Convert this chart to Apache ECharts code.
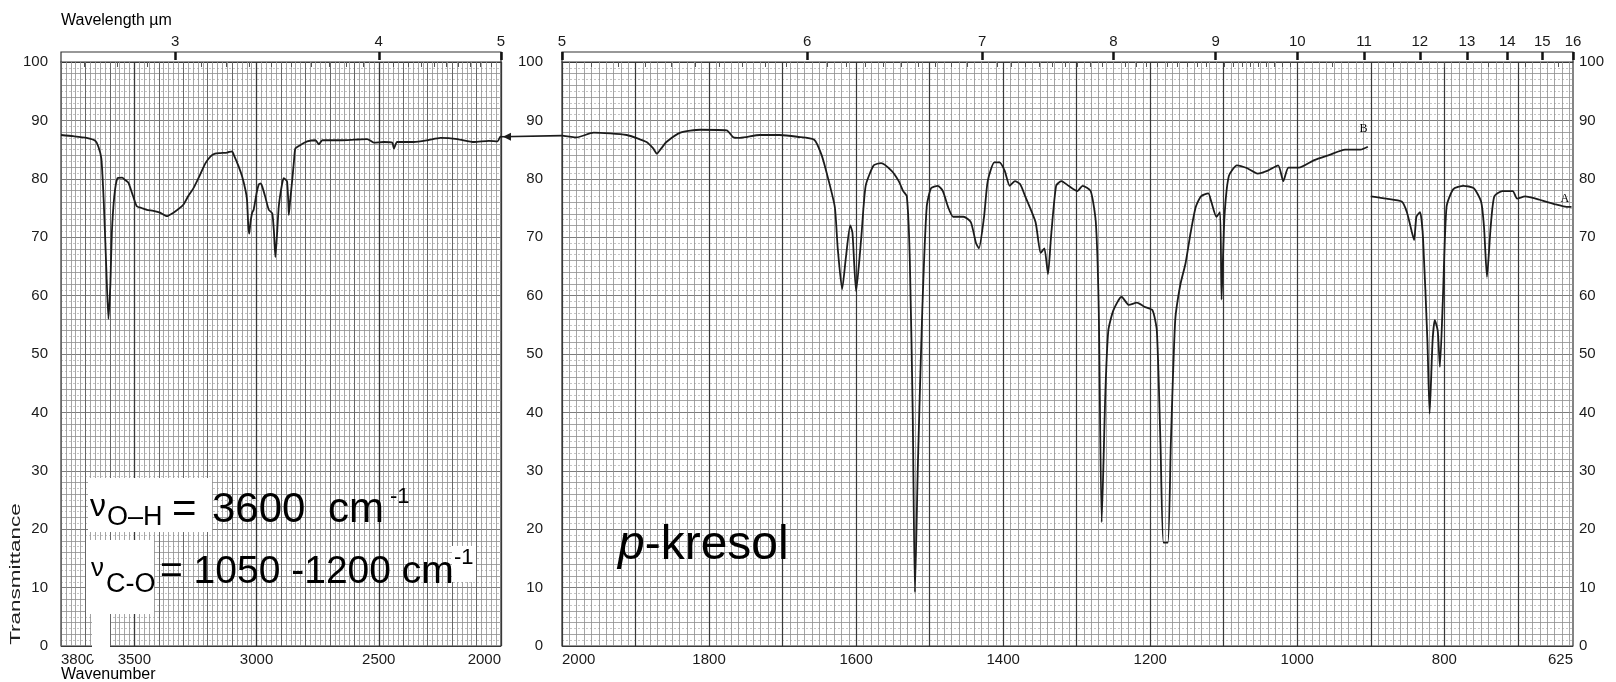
<!DOCTYPE html>
<html>
<head>
<meta charset="utf-8">
<script src="https://cdn.jsdelivr.net/npm/echarts@6/dist/echarts.min.js"></script>
<style>
  html, body { margin: 0; padding: 0; background: #fff; }
  #chart { width: 1616px; height: 682px; }
</style>
</head>
<body>
<div id="chart"></div>
<script>
// --- data (wavenumber cm-1, % transmittance) ---
var leftWavenumbers = [3800, 3750, 3695, 3660, 3647, 3635, 3625, 3615, 3606, 3598, 3592, 3582, 3569, 3550, 3538, 3524, 3505, 3490, 3470, 3449, 3422, 3395, 3367, 3340, 3320, 3299, 3280, 3258, 3230, 3210, 3189, 3170, 3148, 3120, 3100, 3094, 3075, 3059, 3045, 3039, 3034, 3030, 3025, 3018, 3012, 3000, 2991, 2983, 2977, 2965, 2950, 2936, 2929, 2923, 2917, 2909, 2897, 2889, 2880, 2875, 2870, 2868, 2862, 2854, 2847, 2841, 2820, 2793, 2759, 2745, 2731, 2657, 2600, 2547, 2520, 2480, 2445, 2438, 2425, 2356, 2300, 2247, 2178, 2110, 2050, 2014, 2003, 2000];
var leftTransmittance = [87.5, 87.3, 87.0, 86.5, 85.5, 83.5, 76, 65, 56, 62, 70.7, 77, 80.1, 80.2, 79.8, 79.3, 77, 75.3, 75.0, 74.7, 74.5, 74.2, 73.6, 74.2, 74.8, 75.6, 77.0, 78.4, 80.8, 82.6, 83.8, 84.3, 84.4, 84.5, 84.7, 84.2, 82.3, 80.4, 78.0, 76.4, 72, 70.6, 72.5, 74.2, 74.7, 77.5, 79.0, 79.2, 78.7, 77.0, 74.7, 74.1, 71, 66.6, 70, 75.3, 78.8, 80.1, 79.8, 79.5, 76, 73.8, 76.5, 79.8, 83, 85.2, 85.8, 86.4, 86.6, 85.9, 86.6, 86.6, 86.7, 86.8, 86.2, 86.3, 86.2, 85.2, 86.3, 86.3, 86.6, 87.0, 86.8, 86.3, 86.5, 86.4, 87.2, 87.2];

var rightWavenumbersB = [2000, 1980, 1957, 1912, 1885, 1876, 1871, 1865, 1858, 1839, 1812, 1776, 1767, 1758, 1731, 1704, 1680, 1657, 1647, 1639, 1629, 1625, 1619, 1614, 1608, 1605, 1600, 1593, 1587, 1576, 1566, 1552, 1542, 1536, 1531, 1527, 1523, 1520, 1516, 1510, 1504, 1498, 1489, 1482, 1475, 1468, 1454, 1444, 1437, 1433, 1426, 1421, 1412, 1405, 1398, 1391, 1384, 1377, 1370, 1356, 1349, 1344, 1339, 1335, 1328, 1321, 1311, 1299, 1292, 1281, 1274, 1270, 1266, 1261, 1257, 1250, 1239, 1229, 1218, 1208, 1197, 1191, 1186, 1182, 1176, 1172, 1166, 1159, 1152, 1145, 1138, 1131, 1121, 1117, 1110, 1105, 1103, 1099, 1093, 1082, 1068, 1054, 1040, 1026, 1019, 1012, 998, 977, 956, 935, 914, 904];
var rightTransmittanceB = [87.4, 87.1, 87.9, 87.5, 86.3, 85.2, 84.3, 85.2, 86.3, 87.9, 88.4, 88.3, 87.1, 87.0, 87.5, 87.5, 87.2, 86.7, 84.1, 80.5, 75.2, 68.1, 61.1, 66.4, 72.0, 70.8, 60.7, 69.9, 78.8, 82.3, 82.7, 81.4, 79.6, 77.9, 77.0, 66.4, 39.8, 9.2, 31.0, 57.5, 75.2, 78.4, 78.8, 77.9, 75.2, 73.5, 73.5, 72.6, 69.0, 68.1, 73.5, 79.6, 82.8, 82.8, 81.4, 78.8, 79.6, 79.1, 77.0, 72.6, 67.3, 68.1, 63.7, 69.9, 78.8, 79.6, 78.8, 77.9, 78.8, 77.9, 72.6, 57.5, 21.2, 43.4, 54.0, 57.5, 59.8, 58.4, 58.8, 58.1, 57.5, 54.0, 34.5, 17.7, 17.7, 34.5, 55.8, 61.9, 65.5, 70.8, 75.2, 77.0, 77.5, 76.1, 73.5, 74.3, 59.3, 73.5, 80.5, 82.3, 81.8, 80.9, 81.4, 82.3, 79.6, 81.9, 81.9, 83.2, 84.1, 85.0, 85.0, 85.5];

var rightWavenumbersA = [900, 879, 858, 851, 844, 841, 838, 833, 829, 823, 820, 816, 813, 809, 806, 802, 797, 788, 774, 760, 750, 746, 742, 737, 732, 721, 707, 701, 690, 676, 662, 648, 634, 627];
var rightTransmittanceA = [77.0, 76.6, 76.1, 74.3, 70.8, 69.5, 73.5, 74.3, 69.9, 52.2, 39.8, 52.2, 55.8, 54.0, 47.8, 59.3, 75.2, 78.2, 78.8, 78.4, 76.1, 71.7, 63.2, 71.7, 77.0, 77.9, 77.9, 76.6, 77.0, 76.6, 76.1, 75.6, 75.2, 75.2];

// --- tick labels ---
var leftWavenumberLabels = [3800, 3500, 3000, 2500, 2000];
var rightWavenumberLabels = [2000, 1800, 1600, 1400, 1200, 1000, 800, 625];
var leftWavelengthLabels = [3, 4, 5];
var rightWavelengthLabels = [5, 6, 7, 8, 9, 10, 11, 12, 13, 14, 15, 16];

function zip(xs, ys) {
  return xs.map(function (x, i) { return [x, ys[i]]; });
}
function steps(from, to, step) {
  var out = [];
  for (var v = from; v <= to + 1e-9; v += step) out.push(Math.round(v * 1000) / 1000);
  return out;
}
function toWavenumber(um) { return 10000 / um; }

var gridColor = '#8e8e8e';
var midColor = '#666';
var darkColor = '#383838';
var ink = '#1a1a1a';
var font = 'Liberation Sans, Arial, sans-serif';

var chart = echarts.init(document.getElementById('chart'), null, { renderer: 'canvas' });

// hidden axis that only draws split lines at given values
function lineAxis(grid, min, max, values, color, width) {
  return {
    gridIndex: grid, type: 'value', min: min, max: max, inverse: true,
    axisLine: { show: false }, axisLabel: { show: false },
    axisTick: { show: false, customValues: values },
    splitLine: { show: true, lineStyle: { color: color, width: width } }
  };
}
function pctAxis(grid, values, color, width, type) {
  return {
    gridIndex: grid, type: 'value', min: 0, max: 100,
    axisLine: { show: false }, axisLabel: { show: false },
    axisTick: { show: false, customValues: values },
    splitLine: { show: true, lineStyle: { color: color, width: width, type: type } }
  };
}

var leftMinor = steps(2000, 3800, 20);
var leftHundred = steps(2000, 3800, 100);
var leftFiveHundred = steps(2000, 3500, 500);
var rightMinor = steps(630, 2000, 10);
var rightHundred = steps(700, 2000, 100);
var pct1 = steps(1, 99, 2);
var pct2 = steps(2, 98, 2);

var leftUmMinor = steps(2.7, 4.9, 0.1).filter(function (v) { return Math.abs(v - Math.round(v)) > 0.01; }).map(toWavenumber);
var rightUmMinor = steps(5.1, 9.9, 0.1).filter(function (v) { return Math.abs(v - Math.round(v)) > 0.01; })
  .concat(steps(10.5, 15.5, 1)).map(toWavenumber);

var plainNum = function (v) { return String(v); };
var umLabel = function (v) { return String(Math.round(10000 / v)); };

var xAxes = [
  // 0: left main
  { gridIndex: 0, type: 'value', min: 2000, max: 3800, inverse: true,
    axisLine: { show: false }, axisTick: { show: false }, splitLine: { show: false },
    axisLabel: { customValues: leftWavenumberLabels, formatter: plainNum, color: ink, fontSize: 15, fontFamily: font, margin: 6,
      alignMinLabel: 'left', alignMaxLabel: 'right' } },
  lineAxis(0, 2000, 3800, leftMinor, gridColor, 0.8),
  lineAxis(0, 2000, 3800, leftHundred, midColor, 1),
  lineAxis(0, 2000, 3800, leftFiveHundred, darkColor, 1.3),
  // 4: right main
  { gridIndex: 1, type: 'value', min: 625, max: 2000, inverse: true,
    axisLine: { show: false }, axisTick: { show: false }, splitLine: { show: false },
    axisLabel: { customValues: rightWavenumberLabels, formatter: plainNum, color: ink, fontSize: 15, fontFamily: font, margin: 6,
      alignMinLabel: 'left', alignMaxLabel: 'right' } },
  lineAxis(1, 625, 2000, rightMinor, gridColor, 0.8),
  lineAxis(1, 625, 2000, rightHundred, darkColor, 1.2),
  // 7, 8: left wavelength strip
  { gridIndex: 2, type: 'value', min: 2000, max: 3800, inverse: true, position: 'top',
    axisLine: { show: false }, splitLine: { show: false }, axisLabel: { show: false },
    axisTick: { show: true, inside: true, length: 5, customValues: leftUmMinor, lineStyle: { color: '#555', width: 1 } } },
  { gridIndex: 2, type: 'value', min: 2000, max: 3800, inverse: true, position: 'top',
    axisLine: { show: false }, splitLine: { show: false },
    axisTick: { show: true, inside: true, length: 8, customValues: leftWavelengthLabels.map(toWavenumber), lineStyle: { color: '#111', width: 2.5 } },
    axisLabel: { show: true, customValues: leftWavelengthLabels.map(toWavenumber), formatter: umLabel, color: ink, fontSize: 15, fontFamily: font, margin: 3 } },
  // 9, 10: right wavelength strip
  { gridIndex: 3, type: 'value', min: 625, max: 2000, inverse: true, position: 'top',
    axisLine: { show: false }, splitLine: { show: false }, axisLabel: { show: false },
    axisTick: { show: true, inside: true, length: 5, customValues: rightUmMinor, lineStyle: { color: '#555', width: 1 } } },
  { gridIndex: 3, type: 'value', min: 625, max: 2000, inverse: true, position: 'top',
    axisLine: { show: false }, splitLine: { show: false },
    axisTick: { show: true, inside: true, length: 8, customValues: rightWavelengthLabels.map(toWavenumber), lineStyle: { color: '#111', width: 2.5 } },
    axisLabel: { show: true, customValues: rightWavelengthLabels.map(toWavenumber), formatter: umLabel, color: ink, fontSize: 15, fontFamily: font, margin: 3 } }
];

var yAxes = [
  // 0..2 left grid
  { gridIndex: 0, type: 'value', min: 0, max: 100, interval: 10, position: 'left',
    axisLine: { show: false }, axisTick: { show: false },
    splitLine: { show: true, lineStyle: { color: darkColor, width: 1.2 } },
    axisLabel: { color: ink, fontSize: 15, fontFamily: font, margin: 13, padding: [0, 0, 6, 0] } },
  pctAxis(0, pct1, '#adadad', 0.7, [2, 2]),
  pctAxis(0, pct2, gridColor, 0.8, 'solid'),
  // 3..6 right grid
  { gridIndex: 1, type: 'value', min: 0, max: 100, interval: 10, position: 'left',
    axisLine: { show: false }, axisTick: { show: false },
    splitLine: { show: true, lineStyle: { color: darkColor, width: 1.2 } },
    axisLabel: { color: ink, fontSize: 15, fontFamily: font, margin: 19, padding: [0, 0, 6, 0] } },
  { gridIndex: 1, type: 'value', min: 0, max: 100, interval: 10, position: 'right',
    axisLine: { show: false }, axisTick: { show: false }, splitLine: { show: false },
    axisLabel: { color: ink, fontSize: 15, fontFamily: font, margin: 6, padding: [0, 0, 8, 0] } },
  pctAxis(1, pct1, '#adadad', 0.7, [2, 2]),
  pctAxis(1, pct2, gridColor, 0.8, 'solid'),
  // 7, 8 strips
  { gridIndex: 2, type: 'value', min: 0, max: 1, show: false },
  { gridIndex: 3, type: 'value', min: 0, max: 1, show: false }
];

var lineStyle = { color: '#1c1c1c', width: 1.8 };

chart.setOption({
  animation: false,
  backgroundColor: '#ffffff',
  grid: [
    { left: 61, top: 62, width: 440, height: 584, show: true, borderColor: '#333', borderWidth: 1.2, backgroundColor: '#fff' },
    { left: 562, top: 62, width: 1011, height: 584, show: true, borderColor: '#333', borderWidth: 1.2, backgroundColor: '#fff' },
    { left: 61, top: 52, width: 440, height: 10, show: true, borderColor: '#333', borderWidth: 1.2, backgroundColor: '#fff' },
    { left: 562, top: 52, width: 1011, height: 10, show: true, borderColor: '#333', borderWidth: 1.2, backgroundColor: '#fff' }
  ],
  xAxis: xAxes,
  yAxis: yAxes,
  series: [
    { type: 'line', xAxisIndex: 0, yAxisIndex: 0, data: zip(leftWavenumbers, leftTransmittance),
      showSymbol: false, smooth: 0.2, lineStyle: lineStyle, z: 5 },
    { type: 'line', xAxisIndex: 4, yAxisIndex: 3, data: zip(rightWavenumbersB, rightTransmittanceB),
      showSymbol: false, smooth: 0.2, lineStyle: lineStyle, z: 5 },
    { type: 'line', xAxisIndex: 4, yAxisIndex: 3, data: zip(rightWavenumbersA, rightTransmittanceA),
      showSymbol: false, smooth: 0.2, lineStyle: lineStyle, z: 5 }
  ]
});

// connecting trace between the two panels, letters A / B, annotations
var pL = chart.convertToPixel({ xAxisIndex: 0, yAxisIndex: 0 }, [2000, 87.2]);
var pR = chart.convertToPixel({ xAxisIndex: 4, yAxisIndex: 3 }, [2000, 87.4]);
var pB = chart.convertToPixel({ xAxisIndex: 4, yAxisIndex: 3 }, [910, 88.5]);
var pA = chart.convertToPixel({ xAxisIndex: 4, yAxisIndex: 3 }, [636, 76.5]);

function txt(x, y, s, size, opts) {
  var style = { x: x, y: y, text: s, fontSize: size, fontFamily: font, fill: '#000',
    verticalAlign: 'middle', align: 'left' };
  if (opts) for (var k in opts) style[k] = opts[k];
  return { type: 'text', z: 100, style: style };
}
function rect(x, y, w, h) {
  return { type: 'rect', z: 90, shape: { x: x, y: y, width: w, height: h }, style: { fill: '#fff' } };
}

chart.setOption({
  graphic: [
    { type: 'line', z: 50, shape: { x1: pL[0], y1: pL[1], x2: pR[0], y2: pR[1] }, style: { stroke: '#1c1c1c', lineWidth: 1.6 } },
    { type: 'polygon', z: 50, shape: { points: [[pL[0] + 2, pL[1]], [pL[0] + 10, pL[1] - 4], [pL[0] + 10, pL[1] + 4]] }, style: { fill: '#1c1c1c' } },
    txt(pB[0], pB[1], 'B', 12, { fontFamily: 'Liberation Serif, serif', align: 'center' }),
    txt(pA[0], pA[1], 'A', 12, { fontFamily: 'Liberation Serif, serif', align: 'center' }),

    txt(61, 21, 'Wavelength µm', 16),
    txt(61, 675, 'Wavenumber', 16),
    { type: 'text', z: 100, x: 16, y: 574, rotation: Math.PI / 2, scaleX: 1.5,
      style: { text: 'Transmittance', fontSize: 15, fontFamily: font, fill: '#222', align: 'center', verticalAlign: 'middle' } },

    // white patches of the pasted annotation
    rect(88, 478, 124, 54),
    rect(86, 540, 68, 74),
    rect(92, 614, 18, 46),
    rect(452, 546, 24, 36),

    txt(90, 507, 'ν', 32),
    txt(107, 518, 'O–H', 27),
    txt(172, 510, '=', 42),
    txt(212, 510, '3600', 42),
    txt(328, 510, 'cm', 42),
    txt(390, 497, '-1', 22),

    txt(91, 569, 'ν', 26),
    txt(106, 585, 'C-O', 27),
    txt(160, 572, '= 1050 -1200 cm', 39),
    txt(454, 558, '-1', 22),

    { type: 'text', z: 100, style: { x: 618, y: 546, text: '{i|p}-kresol', fontSize: 48, fontFamily: font, fill: '#000',
      verticalAlign: 'middle', rich: { i: { fontStyle: 'italic', fontSize: 48, fontFamily: font } } } }
  ]
});

window.addEventListener('resize', function () { chart.resize(); });
</script>
</body>
</html>
